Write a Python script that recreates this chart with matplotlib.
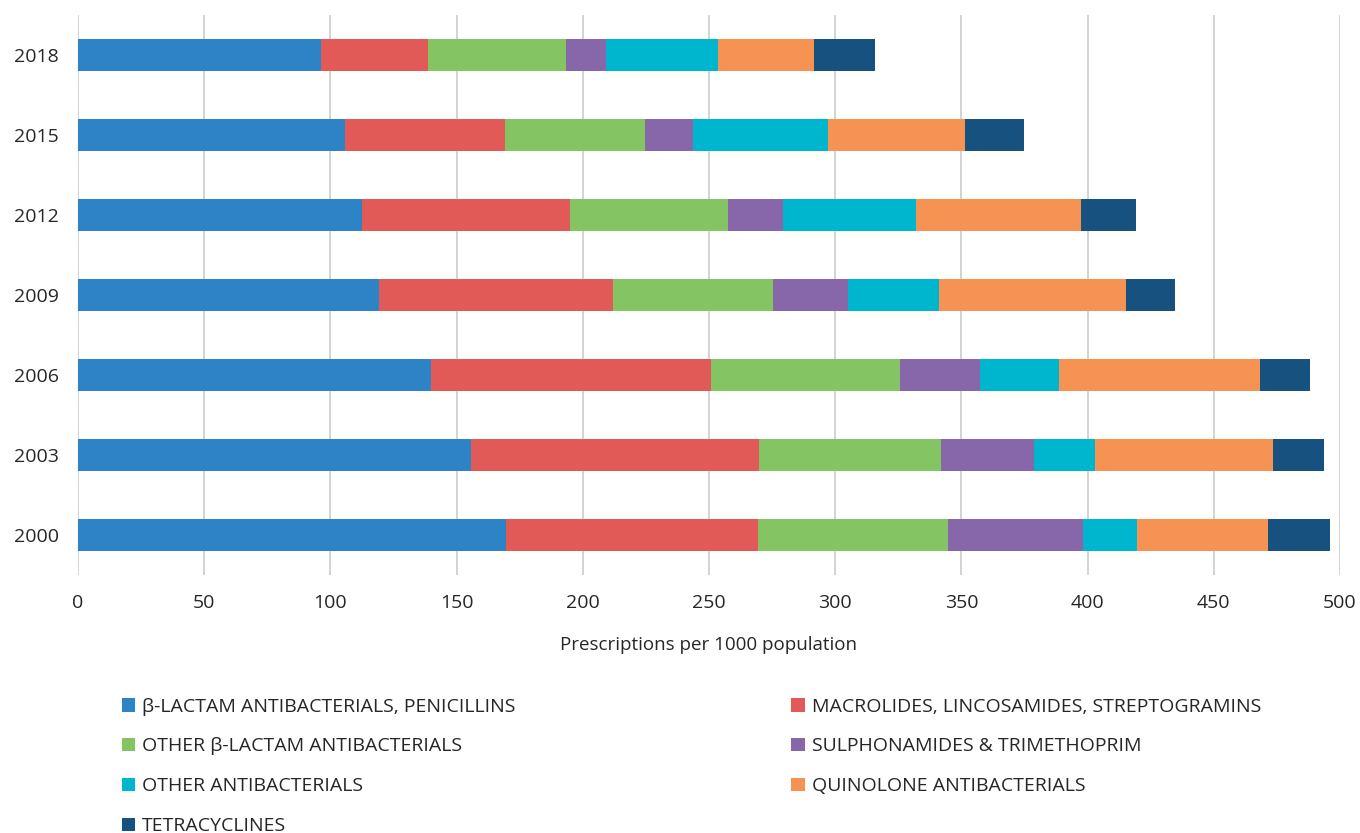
import matplotlib.pyplot as plt
import numpy as np

plt.rcParams['font.family'] = ['Open Sans', 'DejaVu Sans']

years = ['2000', '2003', '2006', '2009', '2012', '2015', '2018']
classes = ['\u03b2-LACTAM ANTIBACTERIALS, PENICILLINS',
           'MACROLIDES, LINCOSAMIDES, STREPTOGRAMINS',
           'OTHER \u03b2-LACTAM ANTIBACTERIALS',
           'SULPHONAMIDES & TRIMETHOPRIM',
           'OTHER ANTIBACTERIALS',
           'QUINOLONE ANTIBACTERIALS',
           'TETRACYCLINES']

penicillins  = [169.6, 155.7, 139.9, 119.3, 112.5, 105.8, 96.3]
macrolides   = [99.8, 114.1, 110.9, 92.7, 82.4, 63.4, 42.4]
other_blact  = [75.3, 72.1, 74.9, 63.4, 62.6, 55.4, 54.6]
sulphonamide = [53.5, 36.9, 31.7, 29.7, 21.8, 19.1, 15.9]
other_antib  = [21.4, 24.1, 31.3, 36.0, 52.7, 53.4, 44.4]
quinolones   = [51.9, 70.6, 79.6, 74.1, 65.4, 54.3, 38.0]
tetracycline = [24.5, 20.2, 19.8, 19.4, 21.8, 23.4, 24.2]

series = [penicillins, macrolides, other_blact, sulphonamide,
          other_antib, quinolones, tetracycline]
colors = ['#2E83C6', '#E25A57', '#84C463', '#8767AA',
          '#00B6CF', '#F79352', '#175180']

fig = plt.figure(figsize=(13.6, 8.33), dpi=100)
ax = fig.add_axes([78 / 1360, 1 - 575 / 833, 1262 / 1360, 560 / 833])

y = np.arange(len(years))
left = np.zeros(len(years))
handles = []
for vals, c, lab in zip(series, colors, classes):
    h = ax.barh(y, vals, left=left, height=0.4, color=c, label=lab, zorder=3)
    handles.append(h)
    left += np.array(vals)

ax.set_xlim(0, 500)
ax.set_ylim(-0.5, 6.5)
ax.set_yticks(y)
ax.set_yticklabels(years)
ax.set_xticks(np.arange(0, 501, 50))
ax.grid(axis='x', color='#D0D0D0', linewidth=1.3, zorder=0)
for s in ax.spines.values():
    s.set_visible(False)
ax.tick_params(length=0, labelsize=14, colors='#262626', pad=14)
ax.tick_params(axis='x', pad=14)
ax.set_xlabel('Prescriptions per 1000 population', fontsize=13.5,
              color='#262626', labelpad=17)

# legend in row order: two columns
order = [0, 2, 4, 6, 1, 3, 5]
fig.legend([handles[i] for i in order], [classes[i] for i in order],
           ncol=2, loc='upper left', bbox_to_anchor=(104 / 1360, 1 - 680 / 833),
           frameon=False, fontsize=14, handlelength=0.7, handleheight=0.7,
           handletextpad=0.35, labelspacing=1.13, columnspacing=14.2,
           labelcolor='#262626')

fig.savefig('out.png', dpi=100)
